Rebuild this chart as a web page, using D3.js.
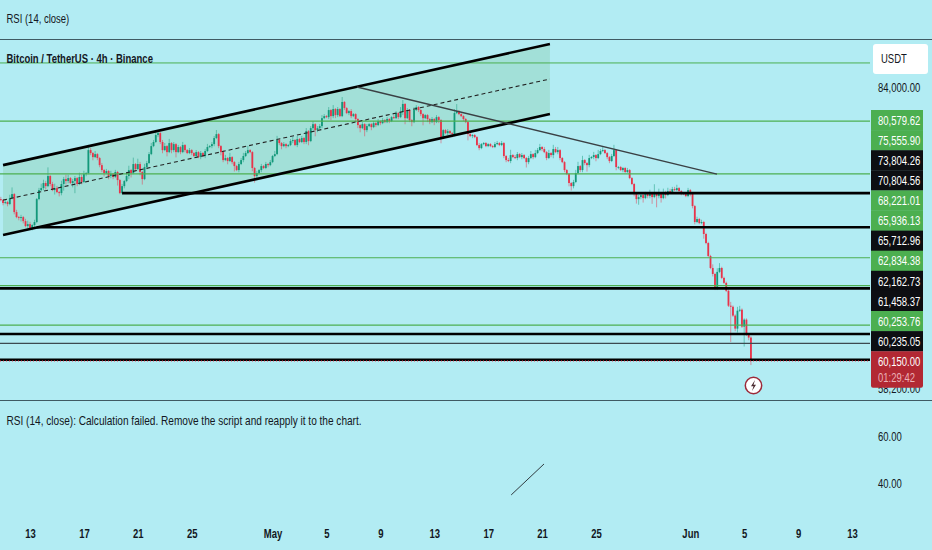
<!DOCTYPE html>
<html>
<head>
<meta charset="utf-8">
<script src="https://cdnjs.cloudflare.com/ajax/libs/d3/7.8.5/d3.min.js"></script>
<style>
  html, body { margin: 0; padding: 0; background: #b2ecf3; overflow: hidden; }
  text { font-family: "Liberation Sans", sans-serif; fill: #131722; }
</style>
</head>
<body>
<svg id="chart"></svg>
<script>
// all prices in thousands of USDT
const firstOpen = 73.2;
const closes = [
  73.27,73.18,72.92,73.00,72.83,73.36,73.72,72.12,71.68,71.60,
  71.68,71.33,70.90,71.07,70.73,70.99,71.25,73.27,74.08,74.26,
  74.72,74.44,75.36,74.63,74.08,74.26,73.90,73.81,74.63,75.08,
  74.90,75.17,74.72,74.90,75.17,74.63,75.27,74.81,75.54,75.63,
  77.78,77.50,77.12,77.40,77.03,76.37,75.91,75.63,75.82,75.36,
  75.54,75.27,75.73,74.99,73.81,74.44,74.90,75.36,75.91,75.63,
  76.47,76.00,76.47,75.73,75.08,76.19,76.56,77.40,78.16,78.55,
  79.22,79.41,78.55,77.78,78.16,77.59,78.45,77.78,78.35,77.59,
  78.07,77.59,78.26,77.78,77.50,77.78,77.50,77.22,77.59,77.12,
  77.50,77.22,77.69,78.07,78.16,78.35,78.93,79.31,78.16,77.59,
  76.84,77.03,76.75,77.12,76.65,76.28,75.91,76.47,76.84,77.22,
  77.50,77.78,77.59,76.10,75.36,75.63,75.91,76.28,76.10,76.47,
  76.37,76.65,77.22,77.40,78.74,78.45,78.16,78.35,78.16,78.26,
  78.64,78.74,78.26,78.83,78.55,78.93,78.55,79.60,78.64,79.89,
  80.28,79.70,79.89,80.09,80.87,81.07,80.97,81.67,81.07,81.77,
  81.17,81.77,81.07,82.48,81.87,81.37,81.57,81.07,81.27,80.78,
  80.19,79.89,80.28,79.70,80.09,80.28,79.99,80.38,80.19,80.58,
  80.38,80.68,80.48,80.78,80.58,80.97,80.87,81.37,80.97,81.47,
  82.28,80.87,81.67,80.68,80.48,81.67,81.97,81.67,81.27,80.87,
  81.17,80.78,80.48,80.78,80.48,80.97,80.68,78.93,79.70,79.41,
  79.60,79.41,79.31,81.37,81.57,81.27,81.07,80.78,80.48,79.31,
  79.12,79.22,79.02,78.26,77.97,78.35,78.45,78.16,78.35,78.16,
  78.07,78.35,78.45,78.26,78.45,77.22,76.84,76.75,77.31,77.12,
  77.03,77.40,77.12,77.31,77.03,76.65,77.03,77.40,77.12,77.50,
  77.78,78.07,77.88,77.59,77.03,77.50,77.31,77.88,77.59,77.78,
  77.03,76.65,75.91,75.54,74.72,74.44,74.81,75.63,76.28,75.91,
  76.84,76.56,76.37,77.03,77.12,77.31,77.03,77.40,77.69,77.78,
  77.50,77.12,76.75,77.22,77.78,76.19,76.19,75.91,76.10,75.73,
  75.91,75.17,74.63,73.72,73.27,73.45,73.63,73.36,73.72,73.54,
  73.81,73.45,73.81,73.54,73.81,73.36,73.81,73.63,73.99,73.90,
  74.17,74.08,74.26,73.99,73.81,73.72,73.54,74.08,73.72,72.65,
  71.25,71.51,71.16,71.25,70.22,69.45,68.36,67.37,66.88,65.68,
  67.05,67.37,66.56,66.16,65.52,64.34,64.26,63.57,62.57,63.95,
  64.03,62.72,63.26,62.11,61.89,60.15
];
const wickUp = [
  .1,.2,.1,.2,.1,.3,.6,.1,.2,.1,
  .2,.1,.2,.3,.2,.1,.2,.1,.2,.4,
  .3,.2,.8,.1,.2,.4,.2,.1,.3,.2,
  .4,.3,.1,.2,.2,.1,.4,.2,.3,.1,
  .5,.2,.1,.3,.1,.1,.2,.1,.2,.1,
  .3,.1,.2,.1,.1,.2,.1,.3,.4,.1,
  .6,.1,.5,.2,.1,.3,.2,.2,.3,.2,
  .3,.3,.1,.2,.3,.1,.4,.1,.2,.1,
  .2,.1,.3,.1,.1,.2,.1,.1,.2,.1,
  .2,.1,.2,.3,.1,.2,.2,.4,.1,.1,
  .2,.3,.1,.4,.1,.1,.1,.2,.2,.3,
  .2,.4,.1,.1,.1,.2,.1,.2,.1,.2,
  .1,.2,.1,.3,.4,.1,.1,.2,.1,.1,
  .2,.3,.1,.3,.1,.2,.1,.3,.1,.2,
  .3,.1,.2,.2,.3,.2,.1,.3,.1,.4,
  .1,.2,.1,.5,.1,.1,.1,.2,.1,.1,
  .1,.1,.2,.1,.2,.1,.1,.2,.1,.2,
  .1,.2,.1,.2,.1,.1,.2,.2,.1,.5,
  .4,.1,.2,.1,.1,.3,.2,.1,.1,.1,
  .1,.1,.1,.2,.1,.2,.1,.1,.1,.1,
  .2,.1,.1,.4,.7,.1,.1,.1,.1,.1,
  .1,.1,.1,.1,.2,.1,.1,.1,.1,.1,
  .1,.2,.2,.1,.2,.1,.1,.2,.5,.1,
  .2,.2,.1,.2,.1,.1,.2,.3,.1,.3,
  .2,.3,.1,.2,.1,.3,.1,.4,.2,.3,
  .1,.1,.1,.1,.1,.1,.2,.3,.4,.1,
  .4,.1,.1,.3,.1,.3,.1,.4,.2,.3,
  .1,.1,.1,.2,.5,.1,.1,.1,.1,.1,
  .2,.1,.1,.1,.1,.2,.1,.1,.2,.1,
  .3,.1,.8,.1,.4,.1,.4,.2,.3,.2,
  .2,.2,.3,.1,.1,.1,.1,.2,.1,.1,
  .1,.2,.1,.2,.1,.1,.1,.1,.3,.1,
  .3,.4,.1,.1,.1,.1,.3,.1,.1,.3,
  .3,.1,.1,.1,.1,.1
];
const wickDown = [
  .1,.1,.2,.1,.2,.1,.1,.2,.1,.2,
  .3,.2,.1,.2,.1,.2,.2,.1,.1,.1,
  .2,.3,.1,.2,.1,.4,.1,.3,.2,.6,
  .3,.2,.1,.4,1.1,.2,.1,.2,.1,.2,
  .1,.2,.3,.1,.2,.2,.2,.3,.1,.3,
  .2,.2,.1,.5,.1,.1,.2,.1,.3,.4,
  .1,.2,.1,.3,.5,.1,.2,.1,.1,.1,
  .1,.2,.2,.3,.1,.4,.1,.3,.2,.5,
  .1,.2,.1,.2,.1,.1,.2,.1,.2,.1,
  .2,.1,.2,.1,.1,.2,.2,.1,.2,.3,
  .2,.1,.3,.1,.2,.5,.1,.2,.1,.2,
  .1,.1,.1,.3,.6,.2,.1,.2,.1,.1,
  .2,.1,.1,.1,.1,.2,.3,.1,.2,.1,
  .1,.2,.1,.2,.1,.1,.2,.2,.4,.1,
  .2,.6,.2,.1,.2,.1,.1,.2,.4,.2,
  .3,.2,.1,.1,.2,.1,.2,.2,.1,.3,
  .3,.4,.1,.6,.2,.1,.3,.1,.2,.1,
  .2,.1,.1,.1,.2,.1,.1,.1,.2,.1,
  .3,.6,.1,.2,.4,.1,.1,.2,.2,.7,
  .1,.3,.2,.1,.3,.1,.3,.5,.1,.1,
  .2,.1,.3,.2,.1,.1,.1,.2,.1,.6,
  .1,.2,.1,.1,.2,.1,.1,.1,.1,.1,
  .1,.1,.1,.1,.1,.2,.2,.1,.2,.1,
  .1,.2,.1,.2,.1,.5,.2,.1,.2,.1,
  .1,.1,.2,.1,.2,.1,.2,.3,.1,.2,
  .2,.1,.2,.1,.3,.4,.2,.1,.1,.2,
  .2,.2,.6,.2,.1,.2,.3,.1,.1,.1,
  .1,.2,.2,.1,.1,.3,.2,.1,.2,.1,
  .1,.1,.1,.2,.4,.5,.2,.4,.1,.2,
  .2,.6,.1,1.0,.2,.4,.1,.3,.1,.1,
  .1,.1,.1,.2,.2,.1,.1,.1,.2,.2,
  .2,.1,.1,.1,.4,.1,.1,.1,.2,.1,
  .1,.1,.1,.1,.1,.1,2.7,.1,.2,.3,
  .1,.1,1.5,.1,.2,.3
];

const firstCandle = "2026-04-10T16:00Z";

// horizontal levels, same order as the price tags on the right
const levelPrices = [80.57962, 75.5559, 73.80426, 70.80456, 68.22101, 65.93613, 65.71296, 62.83438, 62.16273, 61.45837, 60.25376, 60.23505];
const levelLabels = ["80,579.62", "75,555.90", "73,804.26", "70,804.56", "68,221.01", "65,936.13", "65,712.96", "62,834.38", "62,162.73", "61,458.37", "60,253.76", "60,235.05"];
const levelKinds = ["support", "support", "drawn", "drawn", "support", "support", "drawn", "support", "drawn", "thin", "support", "drawn"];
const levelStarts = [null, null, "2026-04-19T20:00Z", "2026-04-13T12:00Z", null, null, null, null, null, null, null, null];
const topLevel = 86.5;
const lastPrice = 60.15;
const lastLabel = "60,150.00";
const countdown = "01:29:42";

// drawn lines: [time, price]
const channelTop = [["2026-04-11T00:00Z", 76.37], ["2026-05-21T14:00Z", 88.52]];
const channelMid = [["2026-04-11T00:00Z", 73.18], ["2026-05-21T14:00Z", 84.82]];
const channelBottom = [["2026-04-11T00:00Z", 70.13], ["2026-05-21T14:00Z", 81.27]];
const trendLine = [["2026-05-07T06:30Z", 84.0], ["2026-06-02T23:30Z", 75.54]];
const rsiLine = [["2026-05-18T17:00Z", 35], ["2026-05-21T03:30Z", 48.3]];

const dateTicks = ["2026-04-13", "2026-04-17", "2026-04-21", "2026-04-25", "2026-05-01", "2026-05-05", "2026-05-09", "2026-05-13", "2026-05-17", "2026-05-21", "2026-05-25", "2026-06-01", "2026-06-05", "2026-06-09", "2026-06-13"];
const dateLabels = ["13", "17", "21", "25", "May", "5", "9", "13", "17", "21", "25", "Jun", "5", "9", "13"];
const priceTicks = [84, 58.2];
const rsiTicks = [60, 40];

const width = 932, height = 550;
const green = "#4caf50", red = "#b22833", up = "#13987a", down = "#e8334a", ink = "#0d0e12";

const svg = d3.select("#chart").attr("width", width).attr("height", height);

const x = d3.scaleUtc()
  .domain([new Date("2026-04-13T00:00Z"), new Date("2026-06-13T00:00Z")])
  .range([30, 852]);
const y = d3.scaleLog().domain([84, 58.2]).range([87, 388]);
const yRsi = d3.scaleLinear().domain([60, 40]).range([436.7, 483.3]);

const t0 = +new Date(firstCandle);
const candles = closes.map((c, i) => {
  const o = i ? closes[i - 1] : firstOpen;
  return {
    time: new Date(t0 + i * 4 * 3600 * 1000),
    open: o,
    close: c,
    high: Math.max(o, c) + wickUp[i],
    low: Math.min(o, c) - wickDown[i]
  };
});

// panes
svg.selectAll(".sep").data([39.5, 400.5]).join("line")
  .attr("x1", 0).attr("x2", width)
  .attr("y1", d => d).attr("y2", d => d)
  .attr("stroke", "#3f5a63").attr("stroke-width", 1);

const pt = d => [x(new Date(d[0])), y(d[1])];

// channel fill
svg.append("path")
  .attr("d", d3.line()([pt(channelTop[0]), pt(channelTop[1]), pt(channelBottom[1]), pt(channelBottom[0])]) + "Z")
  .attr("fill", "rgb(100,180,110)").attr("fill-opacity", 0.2);

// candles
const candle = svg.append("g").selectAll("g").data(candles).join("g");
candle.append("line")
  .attr("x1", d => x(d.time)).attr("x2", d => x(d.time))
  .attr("y1", d => y(d.high)).attr("y2", d => y(d.low))
  .attr("stroke", d => d.close >= d.open ? up : down)
  .attr("stroke-width", 0.7).attr("stroke-opacity", 0.7);
candle.append("rect")
  .attr("x", d => x(d.time) - 0.9).attr("width", 1.8)
  .attr("y", d => Math.min(y(d.open), y(d.close)))
  .attr("height", d => Math.max(0.8, Math.abs(y(d.open) - y(d.close))))
  .attr("fill", d => d.close >= d.open ? up : down);

// levels
svg.append("line")
  .attr("x1", 0).attr("x2", 870).attr("y1", y(topLevel)).attr("y2", y(topLevel))
  .attr("stroke", green).attr("stroke-width", 1);
const styleOf = { support: [green, 1.1], drawn: ["#000", 2.6], thin: ["#3c4a50", 1.3] };
const levels = levelPrices.map((p, i) => ({ p, kind: levelKinds[i], start: levelStarts[i] }));
svg.append("g").selectAll("line")
  .data(levels.slice().sort((a, b) => styleOf[a.kind][1] - styleOf[b.kind][1]))
  .join("line")
  .attr("x1", d => d.start ? x(new Date(d.start)) : 0).attr("x2", 870)
  .attr("y1", d => y(d.p)).attr("y2", d => y(d.p))
  .attr("stroke", d => styleOf[d.kind][0])
  .attr("stroke-width", d => styleOf[d.kind][1]);
svg.append("line")
  .attr("x1", 0).attr("x2", 870).attr("y1", y(lastPrice)).attr("y2", y(lastPrice))
  .attr("stroke", "#e8334a").attr("stroke-width", 1).attr("stroke-dasharray", "1 2");

// channel lines
const drawLine = (pts, w, color, dash) => svg.append("line")
  .attr("x1", pt(pts[0])[0]).attr("y1", pt(pts[0])[1])
  .attr("x2", pt(pts[1])[0]).attr("y2", pt(pts[1])[1])
  .attr("stroke", color).attr("stroke-width", w).attr("stroke-dasharray", dash || null);
drawLine(channelTop, 2.6, "#000");
drawLine(channelBottom, 2.6, "#000");
drawLine(channelMid, 1.1, "#222", "4 3");
drawLine(trendLine, 1.3, "#3a4044");

svg.append("line")
  .attr("x1", x(new Date(rsiLine[0][0]))).attr("y1", yRsi(rsiLine[0][1]))
  .attr("x2", x(new Date(rsiLine[1][0]))).attr("y2", yRsi(rsiLine[1][1]))
  .attr("stroke", "#2f3a3f").attr("stroke-width", 1);

// axes
const xAxis = d3.axisBottom(x)
  .tickValues(dateTicks.map(d => new Date(d + "T00:00Z")))
  .tickSize(0)
  .tickFormat((d, i) => dateLabels[i]);
const gx = svg.append("g").attr("transform", "translate(0,526)").call(xAxis);
gx.select(".domain").remove();
gx.selectAll("text").style("font-size", "13px").style("font-weight", "bold").attr("fill", ink);

const yAxis = d3.axisRight(y).tickValues(priceTicks).tickSize(0).tickFormat(d => d3.format(",.2f")(d * 1000));
const gy = svg.append("g").attr("transform", "translate(875,0)").call(yAxis);
gy.select(".domain").remove();
gy.selectAll("text").style("font-size", "13px").attr("fill", ink);

const rsiAxis = d3.axisRight(yRsi).tickValues(rsiTicks).tickSize(0).tickFormat(d3.format(".2f"));
const gr = svg.append("g").attr("transform", "translate(875,0)").call(rsiAxis);
gr.select(".domain").remove();
gr.selectAll("text").style("font-size", "13px").attr("fill", ink);

// price tags
const tagTop = 110, tagStep = 20.1;
const tags = svg.append("g");
levelLabels.forEach((label, i) => {
  tags.append("rect")
    .attr("x", 871).attr("y", tagTop + i * tagStep).attr("width", 52).attr("height", tagStep + 0.3)
    .attr("fill", levelKinds[i] === "support" ? green : ink);
  tags.append("text")
    .attr("x", 878).attr("y", tagTop + i * tagStep + 14.7)
    .style("font-size", "13px").style("fill", "#fff").text(label);
});
const lastTop = tagTop + levelLabels.length * tagStep;
tags.append("path")
  .attr("d", `M871,${lastTop}H923V${lastTop + 34.5}q0,2 -2,2H873q-2,0 -2,-2Z`)
  .attr("fill", red);
tags.append("text").attr("x", 878).attr("y", lastTop + 14.7)
  .style("font-size", "13px").style("fill", "#fff").text(lastLabel);
tags.append("text").attr("x", 878).attr("y", lastTop + 31)
  .style("font-size", "13px").style("fill", "#eab0b6").text(countdown);

// currency box
svg.append("rect").attr("x", 873).attr("y", 44).attr("width", 55).attr("height", 30).attr("rx", 3).attr("fill", "#fff");
svg.append("text").attr("x", 881).attr("y", 63).style("font-size", "13px").text("USDT");

// titles
const title = (tx, ty, str, bold) => svg.append("text").attr("x", tx).attr("y", ty)
  .style("font-size", "13px").style("font-weight", bold ? "bold" : null).text(str);
title(6.5, 23, "RSI (14, close)");
title(6.5, 63, "Bitcoin / TetherUS · 4h · Binance", true);
title(6.5, 425, "RSI (14, close): Calculation failed. Remove the script and reapply it to the chart.").attr("class", "wide");

// flash marker
const flash = svg.append("g").attr("transform", "translate(753.5,385.5)");
flash.append("circle").attr("r", 8.2).attr("fill", "#fff").attr("stroke", "#9c2a3a").attr("stroke-width", 1.5);
flash.append("path").attr("d", "M1.5,-5.5L-2.5,0.8H0L-1.5,5.5L2.5,-0.8H0Z").attr("fill", "#4a2a30");

// the reference font is condensed: squeeze every label horizontally
svg.selectAll("text").each(function() {
  const len = this.getComputedTextLength();
  const squeeze = this.getAttribute("class") === "wide" ? 0.775 : 0.73;
  d3.select(this).attr("textLength", len * squeeze).attr("lengthAdjust", "spacingAndGlyphs");
});
</script>
</body>
</html>
